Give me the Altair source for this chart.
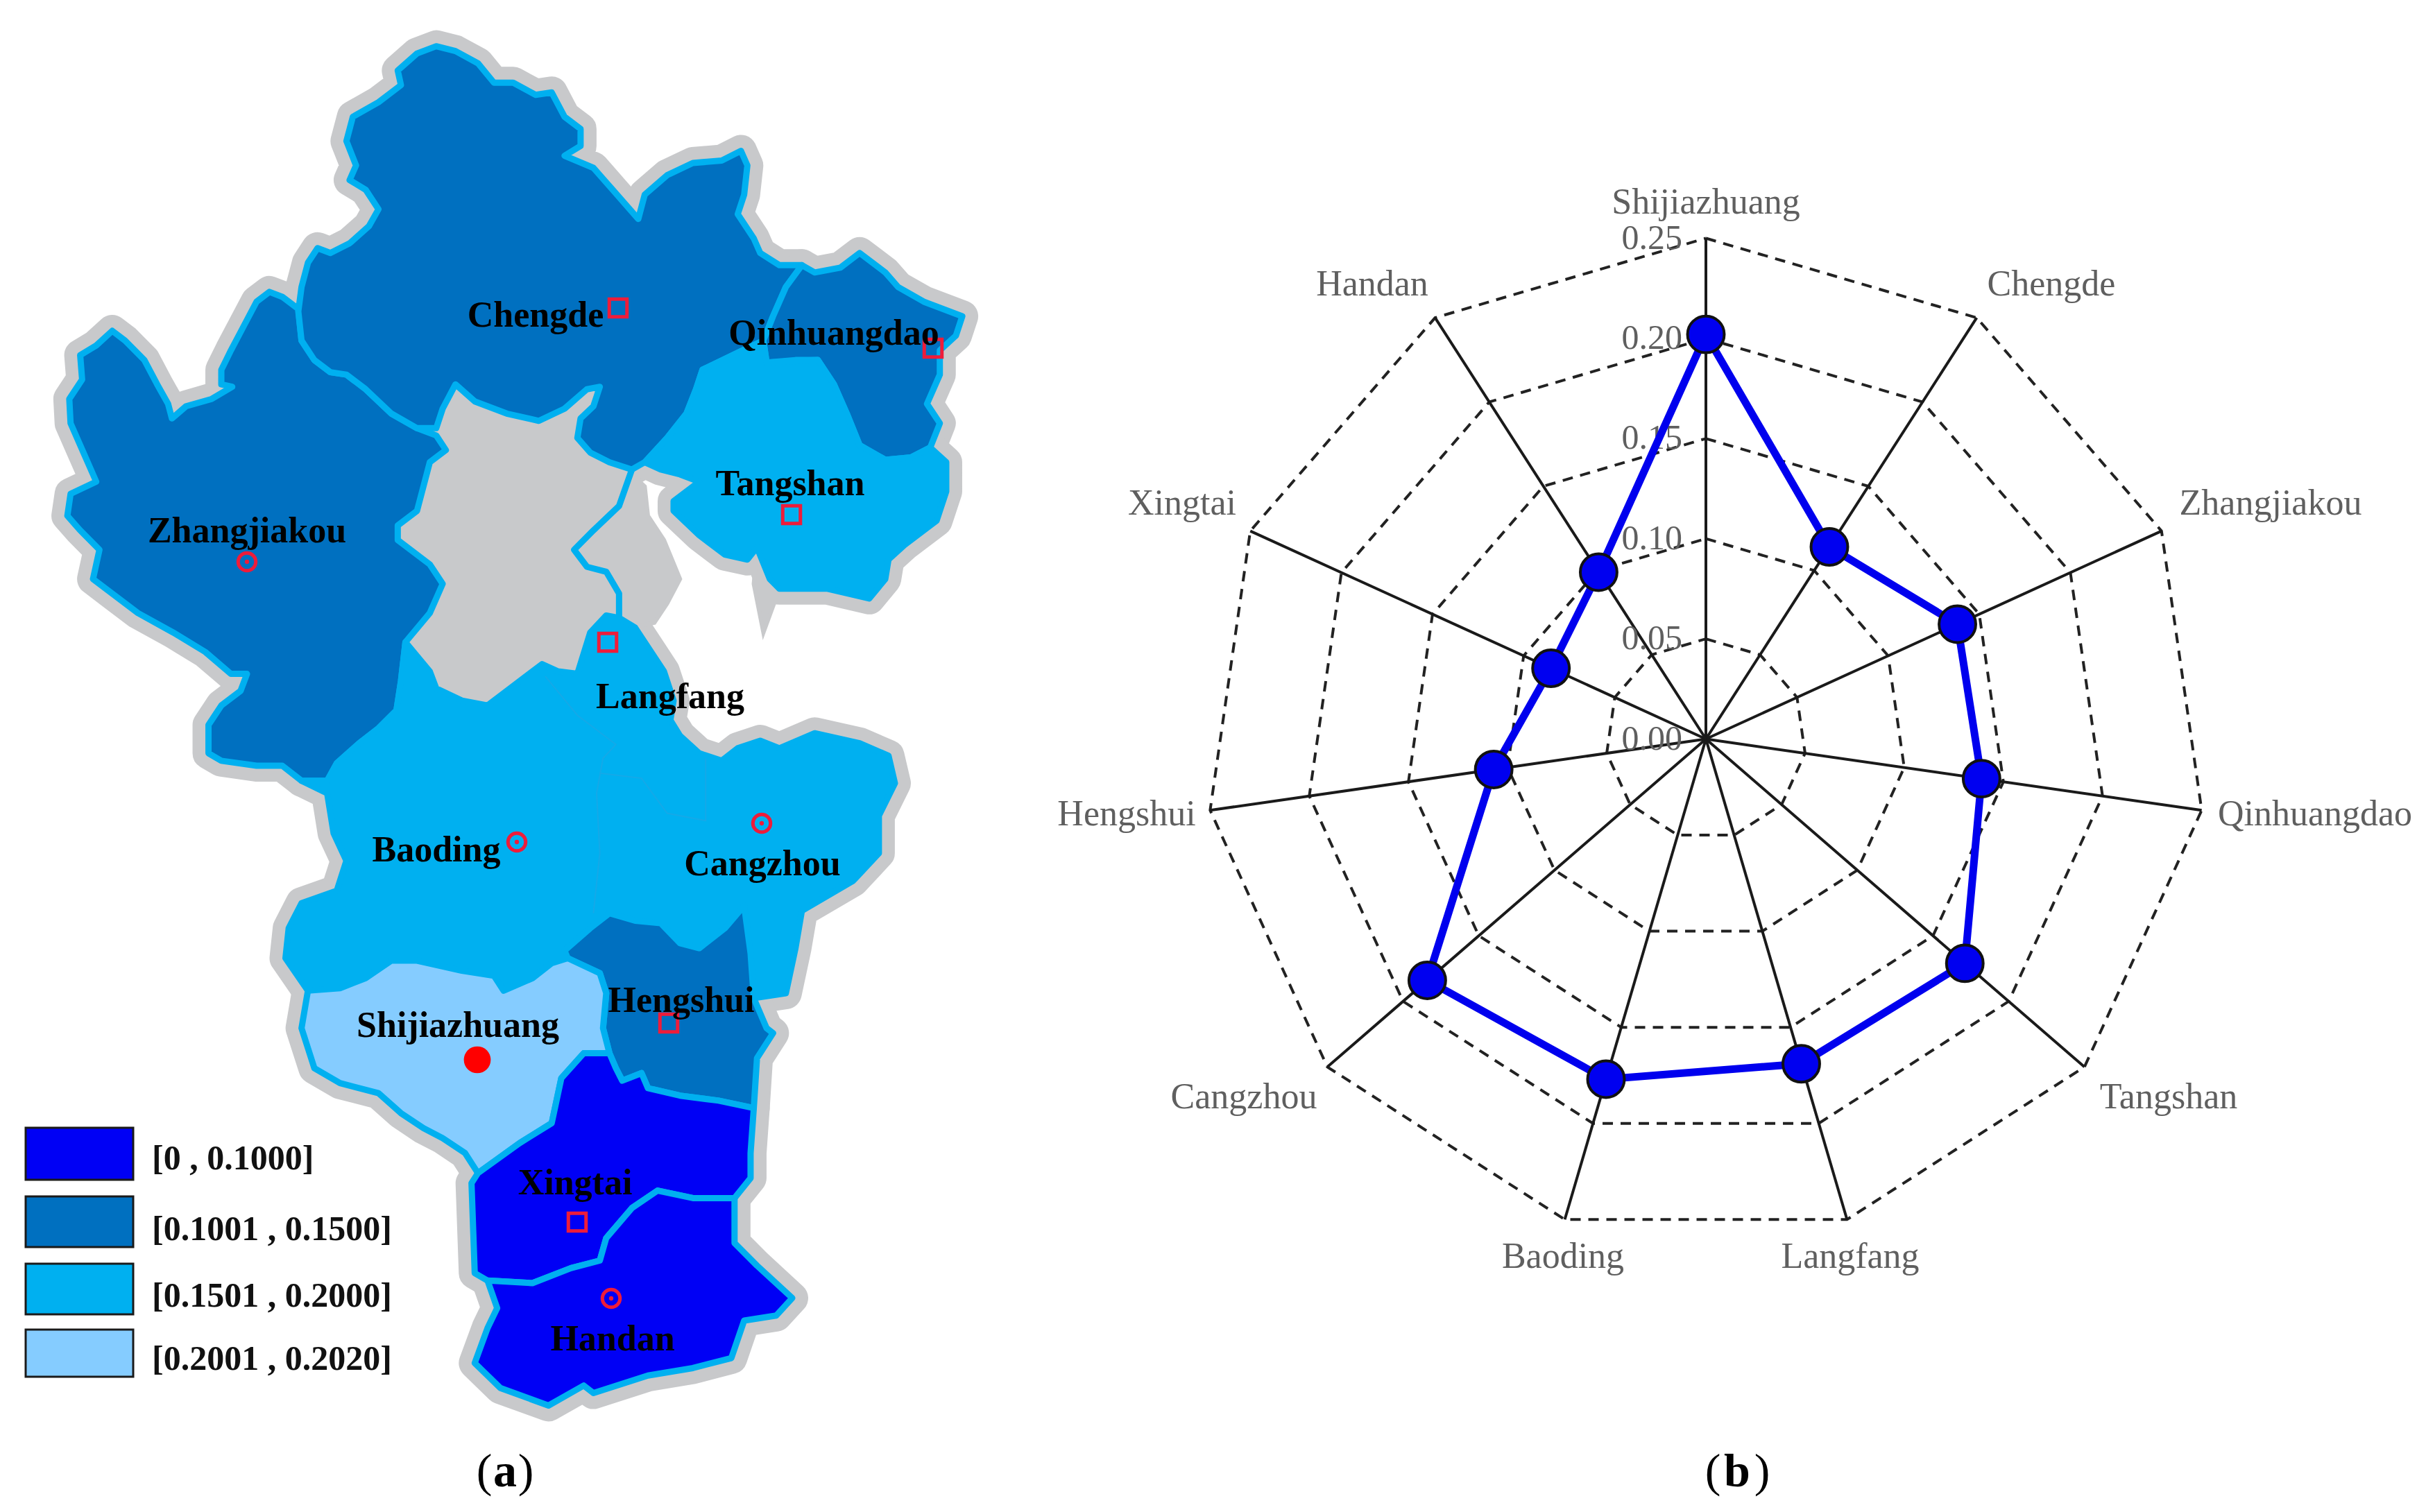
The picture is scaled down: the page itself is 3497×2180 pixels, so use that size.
import altair as alt
import numpy as np
import pandas as pd

FONT = "Liberation Serif"


# outlines were traced on two enlarged crops of the map, these bring them back to picture pixels
def top(points):
    return [[x / 1.0814, y / 1.4255] for x, y in points]


def bottom(points):
    return [[x / 1.0814, 1050 + y / 1.3876] for x, y in points]


zhangjiakou = top([(465, 635), (440, 610), (420, 600), (400, 620), (380, 670), (360, 720), (345, 760), (345, 790),
                   (362, 795), (330, 820), (290, 835), (268, 860), (262, 830), (245, 790), (225, 740), (195, 700),
                   (175, 680), (150, 710), (125, 730), (128, 780), (108, 820), (110, 870), (130, 930), (150, 990),
                   (110, 1015), (105, 1060), (125, 1090), (155, 1130), (145, 1190), (175, 1220), (215, 1260),
                   (270, 1300), (320, 1340), (360, 1385), (385, 1385), (375, 1420), (345, 1450), (325, 1490),
                   (325, 1540)]) + bottom([(325, 50), (345, 65), (400, 75), (440, 75), (470, 105), (510, 105),
                                           (525, 70), (560, 30), (590, 0)]) + top([
    (618, 1460), (625, 1400), (632, 1320), (670, 1260), (690, 1200), (670, 1160), (620, 1110), (620, 1080),
    (650, 1050), (670, 950), (695, 925), (680, 895), (650, 880), (610, 850), (570, 800), (540, 770), (515, 765),
    (490, 740), (470, 700)])

chengde = top([(465, 640), (470, 590), (480, 540), (495, 510), (515, 520), (545, 500), (575, 465), (590, 430),
               (570, 390), (545, 370), (555, 340), (540, 290), (550, 240), (590, 210), (625, 175), (620, 145),
               (650, 110), (680, 95), (710, 105), (745, 130), (770, 170), (800, 170), (835, 195), (860, 190),
               (880, 240), (905, 265), (905, 300), (880, 320), (925, 345), (955, 390), (995, 450), (1005, 400),
               (1040, 360), (1080, 335), (1125, 330), (1155, 310), (1165, 340), (1160, 400), (1150, 440),
               (1175, 490), (1185, 520), (1215, 545), (1250, 545), (1225, 590), (1205, 650), (1190, 700),
               (1150, 725), (1095, 760), (1085, 800), (1070, 850), (1040, 900), (1005, 950), (985, 965),
               (950, 950), (920, 930), (900, 900), (905, 860), (925, 835), (935, 795), (915, 800), (880, 840),
               (840, 865), (790, 850), (740, 825), (710, 790), (690, 840), (680, 880), (650, 880), (610, 850),
               (570, 800), (540, 770), (515, 765), (490, 740), (470, 700)])

qinhuangdao = top([(1250, 545), (1270, 560), (1310, 550), (1340, 520), (1380, 560), (1400, 590), (1440, 620),
                   (1500, 650), (1490, 690), (1465, 720), (1465, 770), (1445, 830), (1465, 870), (1450, 920),
                   (1420, 940), (1380, 945), (1340, 915), (1320, 850), (1300, 790), (1275, 740), (1240, 740),
                   (1195, 745), (1190, 700), (1205, 650), (1225, 590)])

tangshan = top([(1190, 700), (1195, 745), (1275, 740), (1300, 790), (1320, 850), (1340, 915), (1380, 945),
                (1420, 940), (1450, 920), (1475, 950), (1475, 1010), (1460, 1070), (1410, 1120), (1385, 1150),
                (1380, 1190), (1355, 1230), (1290, 1210), (1215, 1210), (1200, 1190), (1180, 1125), (1165, 1150),
                (1130, 1140), (1090, 1100), (1050, 1050), (1050, 1030), (1090, 990), (1060, 975), (1030, 965),
                (1005, 950), (1040, 900), (1070, 850), (1085, 800), (1095, 760), (1150, 725)])

# Baoding, Langfang and Cangzhou share one colour, only a faint line parts them
baoding_langfang_cangzhou = top([(945, 1265), (965, 1270), (990, 1290), (1015, 1340), (1035, 1380), (1050, 1440),
                                 (1045, 1480)]) + bottom([
    (1060, 15), (1090, 50), (1125, 65), (1150, 40), (1185, 25), (1215, 40), (1270, 10), (1340, 30), (1385, 55),
    (1395, 110), (1370, 175), (1370, 250), (1330, 305), (1250, 365), (1240, 440), (1225, 530), (1200, 535),
    (1175, 540), (1170, 450), (1160, 355), (1130, 400), (1090, 440), (1060, 430), (1030, 390), (990, 385),
    (950, 370), (920, 400), (880, 445), (885, 460), (860, 470), (830, 500), (785, 525), (770, 495), (720, 485),
    (650, 465), (610, 465), (570, 500), (530, 520), (480, 525), (445, 460), (450, 400), (470, 350), (525, 325),
    (540, 265), (520, 210), (510, 130), (470, 105), (510, 105), (525, 70), (560, 30), (590, 0)]) + top([
    (618, 1460), (625, 1400), (632, 1320), (670, 1380), (680, 1415), (720, 1440), (760, 1450), (780, 1430),
    (845, 1365), (870, 1380), (900, 1385), (920, 1300)])

hengshui = bottom([(1160, 355), (1170, 450), (1175, 540), (1195, 600), (1205, 610), (1180, 660), (1175, 760),
                   (1120, 745), (1060, 735), (1010, 720), (1000, 690), (970, 705), (960, 680), (950, 650),
                   (940, 600), (945, 530), (935, 490), (885, 460), (880, 445), (920, 400), (950, 370), (990, 385),
                   (1030, 390), (1060, 430), (1090, 440), (1130, 400)])

shijiazhuang = bottom([(885, 460), (935, 490), (945, 530), (940, 600), (950, 650), (910, 650), (875, 700),
                       (860, 790), (810, 830), (745, 890), (725, 850), (690, 820), (660, 800), (625, 770),
                       (590, 730), (530, 710), (490, 680), (470, 600), (480, 525), (530, 520), (570, 500),
                       (610, 465), (650, 465), (720, 485), (770, 495), (785, 525), (830, 500), (860, 470)])

xingtai = bottom([(910, 650), (950, 650), (960, 680), (970, 705), (1000, 690), (1010, 720), (1060, 735),
                  (1120, 745), (1175, 760), (1170, 850), (1170, 900), (1145, 940), (1080, 940), (1025, 925),
                  (985, 960), (945, 1020), (935, 1065), (890, 1080), (830, 1110), (760, 1105), (740, 1090),
                  (735, 910), (745, 890), (810, 830), (860, 790), (875, 700)])

handan = bottom([(760, 1105), (830, 1110), (890, 1080), (935, 1065), (945, 1020), (985, 960), (1025, 925),
                 (1080, 940), (1145, 940), (1145, 1030), (1180, 1075), (1235, 1140), (1210, 1175), (1160, 1185),
                 (1140, 1260), (1080, 1280), (1010, 1295), (925, 1330), (910, 1315), (855, 1355), (780, 1320),
                 (740, 1270), (760, 1200), (775, 1160)])

# grey areas that belong to no class (Beijing, Tianjin, a spit on the coast)
beijing = top([(710, 790), (740, 825), (790, 850), (840, 865), (880, 840), (915, 800), (935, 795), (925, 835),
               (905, 860), (900, 900), (920, 930), (950, 950), (985, 965), (965, 1040), (925, 1090), (895, 1130),
               (915, 1165), (945, 1175), (965, 1220), (965, 1270), (945, 1265), (920, 1300), (900, 1385),
               (870, 1380), (845, 1365), (780, 1430), (760, 1450), (720, 1440), (680, 1415), (670, 1380),
               (632, 1320), (670, 1260), (690, 1200), (670, 1160), (620, 1110), (620, 1080), (650, 1050),
               (670, 950), (695, 925), (680, 895)])
tianjin = top([(985, 975), (1005, 1000), (1010, 1060), (1035, 1110), (1060, 1190), (1040, 1240), (1020, 1280),
               (985, 1290), (965, 1265), (965, 1220), (945, 1175), (915, 1165), (895, 1130), (925, 1090),
               (965, 1040)])
spit = top([(1180, 1125), (1215, 1210), (1190, 1300), (1175, 1200)])

inner_line_a = top([(850, 1390), (900, 1470), (960, 1530)]) + bottom([(940, 60), (930, 130), (935, 250), (925, 370)])
inner_line_b = bottom([(935, 90), (1000, 100), (1040, 170), (1100, 185), (1100, 60)])
beijing_tianjin_border = top([(985, 965), (965, 1040), (925, 1090), (895, 1130), (915, 1165), (945, 1175),
                              (965, 1220), (965, 1270)])

band_labels = ["[0 , 0.1000]", "[0.1001 , 0.1500]", "[0.1501 , 0.2000]", "[0.2001 , 0.2020]"]
band_colors = ["#0000f5", "#0070c0", "#00b0f0", "#85ccff"]
legend_x = [37, 192]
legend_y0 = [1626, 1725, 1822, 1917]
legend_y1 = [1701, 1798, 1895, 1985]
legend_text_x = [219, 219, 219, 219]
legend_text_y = [1671, 1773, 1869, 1960]

region_shapes = [zhangjiakou, chengde, qinhuangdao, tangshan, baoding_langfang_cangzhou, hengshui, shijiazhuang,
                 xingtai, handan]
region_bands = [1, 1, 1, 2, 2, 1, 3, 0, 0]
grey_shapes = [beijing, tianjin, spit]

cities = ["Chengde", "Qinhuangdao", "Tangshan", "Zhangjiakou", "Langfang", "Baoding", "Cangzhou", "Hengshui",
          "Shijiazhuang", "Xingtai", "Handan"]
city_label_x = [772, 1202, 1139, 356, 966, 629, 1099, 982, 660, 829, 883]
city_label_y = [455, 481, 698, 766, 1005, 1226, 1246, 1443, 1479, 1706, 1931]
marker_x = [891, 1345, 1141, 356, 876, 745, 1098, 964, 688, 832, 881]
marker_y = [444, 502, 742, 810, 926, 1214, 1187, 1475, 1528, 1762, 1872]
marker_kind = ["square", "square", "square", "circle", "square", "circle", "circle", "square", "dot", "square",
               "circle"]

# radar
spoke_names = ["Shijiazhuang", "Chengde", "Zhangjiakou", "Qinhuangdao", "Tangshan", "Langfang", "Baoding", "Cangzhou",
               "Hengshui", "Xingtai", "Handan"]
spoke_values = [0.202, 0.114, 0.138, 0.139, 0.171, 0.169, 0.177, 0.184, 0.107, 0.085, 0.099]
spoke_label_px = [2459, 2957, 3273, 3337, 3126, 2667, 2253, 1793, 1624, 1704, 1978]
spoke_label_py = [292, 410, 726, 1174, 1582, 1812, 1812, 1582, 1174, 726, 410]
ring_values = [0.05, 0.10, 0.15, 0.20, 0.25]
tick_values = [0.00, 0.05, 0.10, 0.15, 0.20, 0.25]
tick_labels = ["0.00", "0.05", "0.10", "0.15", "0.20", "0.25"]

LEFT_W, RIGHT_W, H = 1482, 1990, 2160
CX, CY, PX_PER_UNIT = 2459, 1065.5, 2888


def feature(points, **props):
    return {"type": "Feature", "properties": props,
            "geometry": {"type": "Polygon", "coordinates": [points + [points[0]]]}}


def line_feature(points):
    return {"type": "Feature", "properties": {},
            "geometry": {"type": "LineString", "coordinates": points}}


PROJ = {"type": "identity", "scale": 1, "translate": [-8, -8]}
map_x = alt.Scale(domain=[8, 8 + LEFT_W], nice=False, zero=False)
map_y = alt.Scale(domain=[8 + H, 8], nice=False, zero=False)
X = lambda f: alt.X(f, scale=map_x, axis=None)
Y = lambda f: alt.Y(f, scale=map_y, axis=None)

regions = [feature(s, band=band_labels[b]) for s, b in zip(region_shapes, region_bands)]
greys = [feature(s) for s in grey_shapes]

halo = alt.Chart(alt.Data(values=regions)).mark_geoshape(
    filled=False, stroke="#c8c9cb", strokeWidth=46, strokeJoin="round").project(**PROJ)
grey_fill = alt.Chart(alt.Data(values=greys)).mark_geoshape(
    fill="#c8c9cb", stroke="#c8c9cb", strokeWidth=6).project(**PROJ)
region_fill = alt.Chart(alt.Data(values=regions)).mark_geoshape(
    stroke="#00b0f0", strokeWidth=9, strokeJoin="round").encode(
    color=alt.Color("properties.band:N", scale=alt.Scale(domain=band_labels, range=band_colors), legend=None)
).project(**PROJ)
inner = alt.Chart(alt.Data(values=[line_feature(inner_line_a), line_feature(inner_line_b)])).mark_geoshape(
    filled=False, stroke="#14a9e8", strokeWidth=2).project(**PROJ)
border = alt.Chart(alt.Data(values=[line_feature(beijing_tianjin_border)])).mark_geoshape(
    filled=False, stroke="#00b0f0", strokeWidth=9, strokeJoin="round").project(**PROJ)

legend_df = pd.DataFrame({"label": band_labels, "color": band_colors, "x0": legend_x[0], "x1": legend_x[1],
                          "y0": legend_y0, "y1": legend_y1, "tx": legend_text_x, "ty": legend_text_y})
legend_boxes = alt.Chart(legend_df).mark_rect(stroke="#1a1a1a", strokeWidth=3).encode(
    x=X("x0:Q"), x2="x1:Q", y=Y("y0:Q"), y2="y1:Q", color=alt.Color("color:N", scale=None))
legend_text = alt.Chart(legend_df).mark_text(
    font=FONT, fontWeight="bold", fontSize=50, align="left", baseline="middle", color="#111111").encode(
    x=X("tx:Q"), y=Y("ty:Q"), text="label:N")

city_df = pd.DataFrame({"city": cities, "lx": city_label_x, "ly": city_label_y,
                        "mx": marker_x, "my": marker_y, "kind": marker_kind})
RED = "#ee1c3a"
squares = alt.Chart(city_df[city_df.kind == "square"]).mark_point(
    shape="square", size=650, stroke=RED, strokeWidth=5, opacity=1).encode(x=X("mx:Q"), y=Y("my:Q"))
circles = alt.Chart(city_df[city_df.kind == "circle"]).mark_point(
    shape="circle", size=650, stroke=RED, strokeWidth=5, opacity=1).encode(x=X("mx:Q"), y=Y("my:Q"))
centres = alt.Chart(city_df[city_df.kind == "circle"]).mark_point(
    shape="circle", size=40, filled=True, color=RED, opacity=1).encode(x=X("mx:Q"), y=Y("my:Q"))
capital = alt.Chart(city_df[city_df.kind == "dot"]).mark_point(
    shape="circle", size=1500, filled=True, color="#ff0000", opacity=1).encode(x=X("mx:Q"), y=Y("my:Q"))
city_text = alt.Chart(city_df).mark_text(
    font=FONT, fontWeight="bold", fontSize=52, baseline="middle", color="#000000").encode(
    x=X("lx:Q"), y=Y("ly:Q"), text="city:N")


def caption(chars, xs, to_x, to_y, xenc, yenc):
    df = pd.DataFrame({"t": chars, "x": [to_x(v) for v in xs], "y": to_y(2123)})
    parens = alt.Chart(df.iloc[[0, 2]]).mark_text(font=FONT, fontSize=68, baseline="middle", color="#000000")
    letter = alt.Chart(df.iloc[[1]]).mark_text(font=FONT, fontSize=68, fontWeight="bold", baseline="middle",
                                               color="#000000")
    return [c.encode(x=xenc("x:Q"), y=yenc("y:Q"), text="t:N") for c in (parens, letter)]


cap_a = caption(["(", "a", ")"], [698, 728, 758], lambda v: v, lambda v: v, X, Y)

panel_a = alt.layer(halo, grey_fill, region_fill, inner, border, legend_boxes, legend_text, squares, circles, centres,
                    capital, city_text, *cap_a).properties(width=LEFT_W, height=H)

# radar: value units on both axes
radar_x = alt.Scale(domain=[(1490 - CX) / PX_PER_UNIT, (1490 + RIGHT_W - CX) / PX_PER_UNIT], nice=False, zero=False)
radar_y = alt.Scale(domain=[(CY - 8 - H) / PX_PER_UNIT, (CY - 8) / PX_PER_UNIT], nice=False, zero=False)
RX = lambda f: alt.X(f, scale=radar_x, axis=None)
RY = lambda f: alt.Y(f, scale=radar_y, axis=None)

n = len(spoke_names)
angles = 2 * np.pi * np.arange(n) / n
to_vx = lambda px: (px - CX) / PX_PER_UNIT
to_vy = lambda py: (CY - py) / PX_PER_UNIT

ring_rows = []
for r in ring_values:
    for k in range(n + 1):
        ring_rows.append({"ring": r, "k": k, "x": r * np.sin(angles[k % n]), "y": r * np.cos(angles[k % n])})
rings = alt.Chart(pd.DataFrame(ring_rows)).mark_line(
    color="#222222", strokeWidth=4, strokeDash=[15, 11]).encode(
    x=RX("x:Q"), y=RY("y:Q"), detail="ring:N", order="k:Q")

spoke_rows = []
for name, a in zip(spoke_names, angles):
    spoke_rows.append({"spoke": name, "k": 0, "x": 0.0, "y": 0.0})
    spoke_rows.append({"spoke": name, "k": 1, "x": 0.25 * np.sin(a), "y": 0.25 * np.cos(a)})
spokes = alt.Chart(pd.DataFrame(spoke_rows)).mark_line(color="#1a1a1a", strokeWidth=4).encode(
    x=RX("x:Q"), y=RY("y:Q"), detail="spoke:N", order="k:Q")

series_df = pd.DataFrame({"name": spoke_names, "value": spoke_values, "k": range(n)})
series_df["x"] = series_df["value"] * np.sin(angles)
series_df["y"] = series_df["value"] * np.cos(angles)
closed = pd.concat([series_df, series_df.iloc[[0]].assign(k=n)])
series_line = alt.Chart(closed).mark_line(color="#0000ee", strokeWidth=11).encode(
    x=RX("x:Q"), y=RY("y:Q"), order="k:Q")
series_points = alt.Chart(series_df).mark_point(
    shape="circle", size=2800, filled=True, fill="#0000f0", stroke="#111111", strokeWidth=4, opacity=1).encode(
    x=RX("x:Q"), y=RY("y:Q"))

spoke_text_df = pd.DataFrame({"t": spoke_names, "x": [to_vx(p) for p in spoke_label_px],
                              "y": [to_vy(p) for p in spoke_label_py]})
spoke_text = alt.Chart(spoke_text_df).mark_text(
    font=FONT, fontSize=52, baseline="middle", color="#5f5f5f").encode(x=RX("x:Q"), y=RY("y:Q"), text="t:N")

tick_df = pd.DataFrame({"t": tick_labels, "x": to_vx(2425), "y": tick_values})
tick_text = alt.Chart(tick_df).mark_text(
    font=FONT, fontSize=50, align="right", baseline="middle", color="#5f5f5f").encode(
    x=RX("x:Q"), y=RY("y:Q"), text="t:N")

cap_b = caption(["(", "b", ")"], [2469, 2504, 2540], to_vx, to_vy, RX, RY)

panel_b = alt.layer(rings, spokes, spoke_text, tick_text, series_line, series_points, *cap_b).properties(
    width=RIGHT_W, height=H)

chart = alt.hconcat(panel_a, panel_b, spacing=0).resolve_scale(x="independent", y="independent").properties(
    padding=0, background="white").configure_view(stroke=None)

chart.save("out.html", embed_options={"renderer": "svg", "actions": False})
